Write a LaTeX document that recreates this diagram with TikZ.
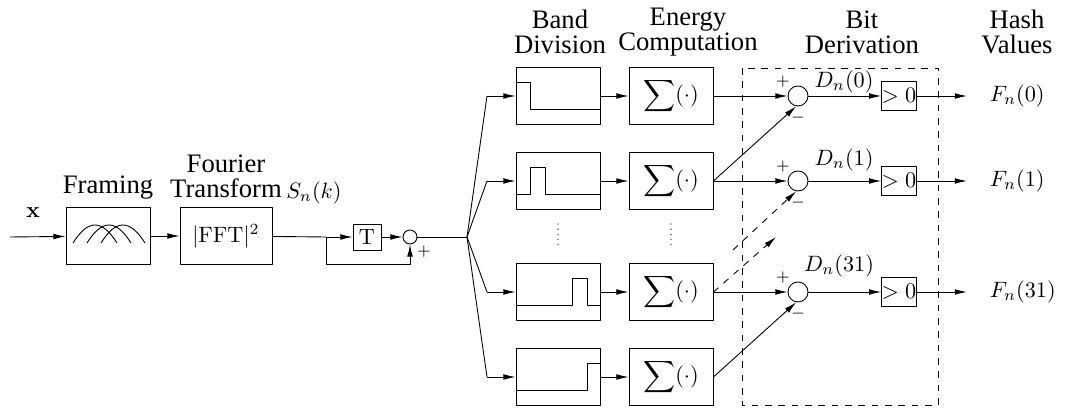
\documentclass[tikz,border=0pt]{standalone}
\usepackage[no-math]{fontspec}
\setmainfont{Liberation Serif}
\newfontfamily\hdfont{Liberation Serif}
\usetikzlibrary{arrows.meta}
\tikzset{
  blk/.style={draw,minimum width=37.8pt,minimum height=25.6pt,inner sep=0pt},
  hd/.style={align=center,font=\hdfont\fontsize{12}{11.3}\selectfont},
  sumc/.style={draw,circle,minimum size=9pt,inner sep=0pt},
  sgn/.style={font=\scriptsize,inner sep=0pt},
  thr/.style={draw,inner sep=0pt,minimum width=15.3pt,minimum height=13pt},
  dots/.style={line cap=round,line width=0.6pt,dash pattern=on 0pt off 2.3pt}
}
\begin{document}
\begin{tikzpicture}[x=0.45pt,y=-0.45pt,line join=round,>={Latex[length=5.5pt,width=2.6pt]}]
\useasboundingbox (0,0) rectangle (1065,408);
% front end
\coordinate (in) at (10,237);
\coordinate (p1) at (326,237);
\coordinate (p2) at (467,237);
\node[blk] (frm) at (108,236) {};
\node[blk,minimum width=41.4pt] (fft) at (226,236) {$|\mathrm{FFT}|^2$};
\node[draw,minimum width=12.6pt,minimum height=11.7pt,inner sep=0pt] (dly) at (367,237) {$\mathrm{T}$};
\node[sumc,minimum size=6.3pt] (c0) at (410,237) {};
\node (lx) at (33,213) {$\mathbf{x}$};
\node[hd] (lfrm) at (108,188) {Framing};
\node[hd] (lfft) at (226,176) {Fourier\\Transform};
\node (lS) at (314,193) {$S_n(k)$};
\node[sgn] (pl0) at (424,252) {$+$};
\foreach \s in {0,14,28}
  \draw (73+\s,243) .. controls (88+\s,219) and (102+\s,219) .. (117+\s,243);
\draw[->] (in)--(frm);
\draw[->] (frm)--(fft);
\draw (fft)--(p1);
\draw[->] (p1)--(dly);
\draw[->] (dly)--(c0);
\draw[->] (p1)--++(0,27)-|(c0.south);
\draw (c0)--(p2);
% bands and energies
\foreach \n/\y in {1/96,2/181,3/292,4/377}{
  \node[blk] (bd\n) at (558,\y) {};
  \node[blk] (en\n) at (671,\y) {$\displaystyle\sum(\cdot)$};
  \draw (p2)--(487,\y) coordinate (q\n);
  \draw[->] (q\n)--(bd\n);
  \draw[->] (bd\n)--(en\n);
}
\draw (516,82)-|(530,109)--(600,109);
\draw (516,194)-|(530,167)-|(545,194)--(600,194);
\draw (516,305)-|(572,278)-|(587,305)--(600,305);
\draw (516,390)-|(587,363)--(600,363);
\draw[dots] (558,224)--(558,246);
\draw[dots] (671,224)--(671,246);
% bit derivation
\draw[dashed] (742,68) rectangle (938,405);
\foreach \n/\y/\k/\dy/\dx in {1/96/0/14/844,2/181/1/21/844,3/292/31/26/839}{
  \node[sumc] (c\n) at (798,\y) {};
  \node[thr] (th\n) at (899,\y) {$>0$};
  \coordinate (o\n) at (967,\y);
  \node[right] (F\n) at (982,\y) {$F_n(\k)$};
  \node (D\n) at (\dx,\y-\dy) {$D_n(\k)$};
  \node[sgn] (pl\n) at (783,\y-14) {$+$};
  \node[sgn] (mi\n) at (798,\y+22) {$-$};
  \draw[->] (en\n)--(c\n);
  \draw[->] (c\n)--(th\n);
  \draw[->] (th\n)--(o\n);
}
\draw[->] (en2.east)--(c1.-100);
\draw[->] (en4.east)--(c3.-100);
\coordinate (dd1) at (776,237);
\coordinate (dd2) at (733,250);
\draw[->,dashed] (en3.east)--(dd1);
\draw[->,dashed] (dd2)--(c2.-100);
% headings
\node[hd] (hBD) at (560,32) {Band\\Division};
\node[hd] (hEC) at (688,32) {Energy\\Computation};
\node[hd] (hBit) at (862,32) {Bit\\Derivation};
\node[hd] (hHV) at (1017,32) {Hash\\Values};
\end{tikzpicture}
\end{document}
